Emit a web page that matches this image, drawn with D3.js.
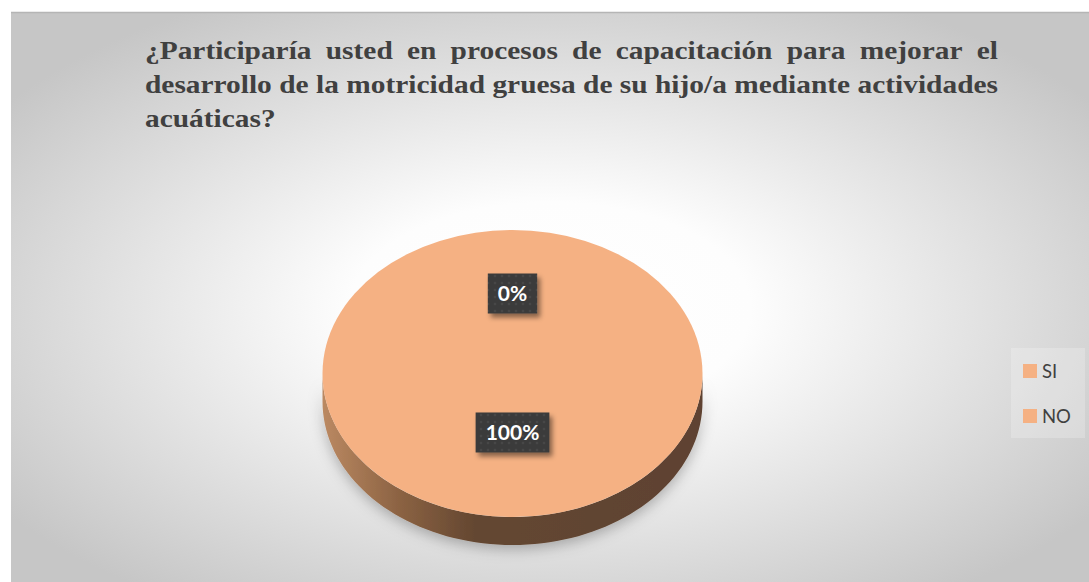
<!DOCTYPE html>
<html>
<head>
<meta charset="utf-8">
<script src="https://cdn.jsdelivr.net/npm/d3@7"></script>
<style>
  body { margin: 0; background: #fff; }
  svg { display: block; }
</style>
</head>
<body>
<svg width="1089" height="582"></svg>
<script>
// datos
var categories = ['SI', 'NO'];
var values = [0, 100];
var percentLabels = ['0%', '100%'];
var titleLines = [
  '¿Participaría usted en procesos de capacitación para mejorar el',
  'desarrollo de la motricidad gruesa de su hijo/a mediante actividades',
  'acuáticas?'
];

var svg = d3.select('svg');
var defs = svg.append('defs');

// fondo degradado radial
var bg = defs.append('radialGradient').attr('id', 'bg')
  .attr('cx', 0.5).attr('cy', 0.52).attr('r', 0.62);
bg.append('stop').attr('offset', '0%').attr('stop-color', '#ffffff');
bg.append('stop').attr('offset', '30%').attr('stop-color', '#fdfdfd');
bg.append('stop').attr('offset', '100%').attr('stop-color', '#c6c6c6');

var side = defs.append('linearGradient').attr('id', 'side')
  .attr('x1', 0).attr('x2', 1).attr('y1', 0).attr('y2', 0);
side.append('stop').attr('offset', '0%').attr('stop-color', '#bb8962');
side.append('stop').attr('offset', '20%').attr('stop-color', '#8c6343');
side.append('stop').attr('offset', '40%').attr('stop-color', '#644731');
side.append('stop').attr('offset', '100%').attr('stop-color', '#5e4230');

var glow = defs.append('filter').attr('id', 'glow')
  .attr('x', '-20%').attr('y', '-20%').attr('width', '140%').attr('height', '140%');
glow.append('feDropShadow').attr('dx', 0).attr('dy', 4).attr('stdDeviation', 7)
  .attr('flood-color', '#000').attr('flood-opacity', 0.28);

var boxShadow = defs.append('filter').attr('id', 'boxShadow')
  .attr('x', '-30%').attr('y', '-30%').attr('width', '170%').attr('height', '170%');
boxShadow.append('feDropShadow').attr('dx', 3).attr('dy', 4).attr('stdDeviation', 2.5)
  .attr('flood-color', '#000').attr('flood-opacity', 0.45);

var dots = defs.append('pattern').attr('id', 'dots')
  .attr('width', 7).attr('height', 7).attr('patternUnits', 'userSpaceOnUse');
dots.append('rect').attr('width', 7).attr('height', 7).attr('fill', '#3a3a3a');
dots.append('circle').attr('cx', 3.5).attr('cy', 3.5).attr('r', 1).attr('fill', '#555');

svg.append('rect').attr('x', 11).attr('y', 12).attr('width', 1078).attr('height', 570)
  .attr('fill', 'url(#bg)');
svg.append('line').attr('x1', 11).attr('x2', 1089).attr('y1', 12.5).attr('y2', 12.5)
  .attr('stroke', '#b5b5b5').attr('stroke-width', 1.5);

// titulo justificado (ligeramente ensanchado como en la imagen)
var left = 145, right = 998;
var title = svg.append('g').attr('font-family', '"Liberation Serif", "Times New Roman", serif')
  .attr('font-weight', 'bold').attr('font-size', 25).attr('fill', '#404040');
var probe = title.append('text').text(titleLines[1]);
var sx = (right - left) / probe.node().getComputedTextLength();
probe.remove();
title.attr('transform', 'translate(' + left + ',0) scale(' + sx + ',1)');
var span = (right - left) / sx;
titleLines.forEach(function(line, li) {
  var y = 59 + li * 34;
  var words = line.split(' ');
  var nodes = words.map(function(w) {
    return title.append('text').attr('y', y).text(w);
  });
  var widths = nodes.map(function(n) { return n.node().getComputedTextLength(); });
  var gap = 6;
  if (li < titleLines.length - 1) {
    gap = (span - d3.sum(widths)) / (words.length - 1);
  }
  var x = 0;
  nodes.forEach(function(n, i) {
    n.attr('x', x);
    x += widths[i] + gap;
  });
});

// pastel 3D
var cx = 512.5, cy = 373.5, rx = 190, ry = 143.5, depth = 28;
var tilt = ry / rx;
var pie = d3.pie().sort(null);
var pieData = pie(values);
var arc = d3.arc().innerRadius(0).outerRadius(rx);
var labelArc = d3.arc().innerRadius(92).outerRadius(92);

var g = svg.append('g').attr('transform', 'translate(' + cx + ',' + cy + ')');

function sidePath(d) {
  var a0 = Math.max(d.startAngle, Math.PI / 2);
  var a1 = Math.min(d.endAngle, 3 * Math.PI / 2);
  if (a1 <= a0) return null;
  var n = 80, pts = [], i, a;
  for (i = 0; i <= n; i++) {
    a = a0 + (a1 - a0) * i / n;
    pts.push([rx * Math.sin(a), -ry * Math.cos(a)]);
  }
  for (i = n; i >= 0; i--) {
    a = a0 + (a1 - a0) * i / n;
    pts.push([rx * Math.sin(a), -ry * Math.cos(a) + depth]);
  }
  return d3.line()(pts) + 'Z';
}

g.append('g').attr('filter', 'url(#glow)')
  .selectAll('path')
  .data(pieData.filter(function(d) { return sidePath(d); }))
  .enter()
  .append('path')
  .attr('d', sidePath)
  .attr('fill', 'url(#side)');

g.append('g').attr('transform', 'scale(1,' + tilt + ')')
  .selectAll('path')
  .data(pieData)
  .enter()
  .append('path')
  .attr('d', function(d) { return arc(d); })
  .attr('fill', '#f5b183');

// etiquetas
var lab = g.selectAll('.lab')
  .data(pieData)
  .enter()
  .append('g')
  .attr('class', 'lab')
  .attr('transform', function(d) {
    var c = labelArc.centroid(d);
    return 'translate(' + c[0] + ',' + (c[1] * tilt - 10.5) + ')';
  });
lab.each(function(d, i) {
  var s = d3.select(this);
  var box = s.append('rect').attr('fill', 'url(#dots)').attr('filter', 'url(#boxShadow)');
  var t = s.append('text')
    .attr('text-anchor', 'middle').attr('dy', '0.36em')
    .attr('font-family', 'Lato, "Open Sans", sans-serif').attr('font-weight', 'bold')
    .attr('font-size', 21).attr('fill', '#fff')
    .text(percentLabels[i]);
  var w = t.node().getComputedTextLength() + 20;
  box.attr('x', -w / 2).attr('y', -20).attr('width', w).attr('height', 40);
});

// leyenda
var legend = svg.append('g');
legend.append('rect').attr('x', 1011).attr('y', 348).attr('width', 74).attr('height', 90)
  .attr('fill', '#fff').attr('opacity', 0.22);
var item = legend.selectAll('.item')
  .data(categories)
  .enter()
  .append('g')
  .attr('class', 'item')
  .attr('transform', function(d, i) { return 'translate(1023,' + (364 + i * 45) + ')'; });
item.append('rect').attr('width', 14).attr('height', 14).attr('fill', '#f5b183');
item.append('text').attr('x', 19).attr('y', 13.5)
  .attr('font-family', 'Lato, "Open Sans", sans-serif').attr('font-size', 18.5)
  .attr('fill', '#404040')
  .text(function(d) { return d; });
</script>
</body>
</html>
